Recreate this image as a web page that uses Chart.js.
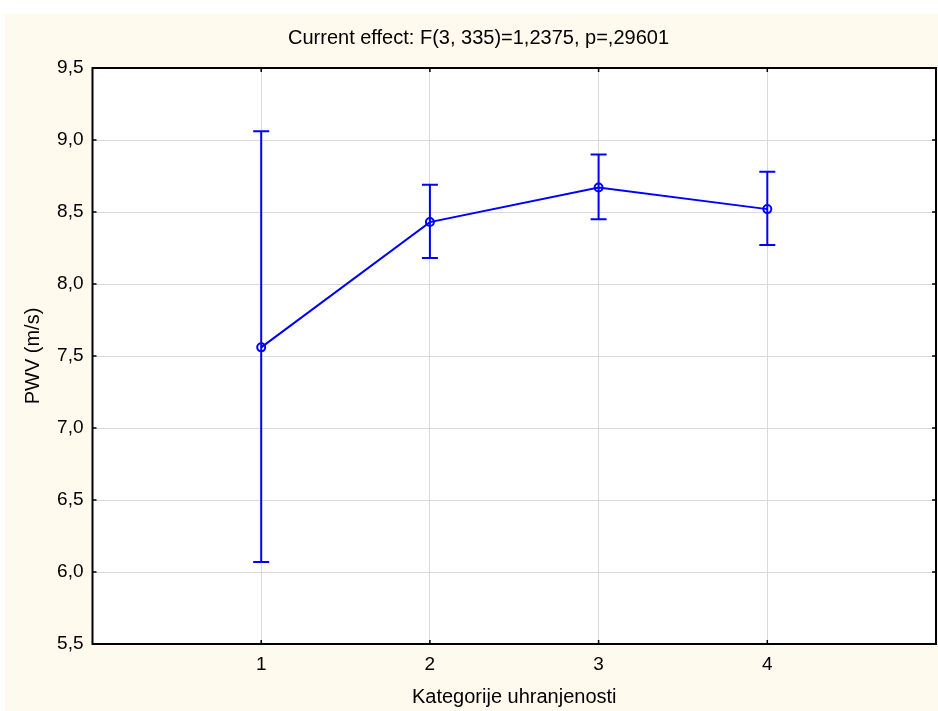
<!DOCTYPE html>
<html>
<head>
<meta charset="utf-8">
<script src="https://cdn.jsdelivr.net/npm/chart.js@4.4.1/dist/chart.umd.min.js"></script>
<style>
  html, body { margin: 0; padding: 0; background: #ffffff; }
  canvas { display: block; }
</style>
</head>
<body>
<canvas id="effectChart" width="938" height="711"></canvas>
<script>
const categories = [1, 2, 3, 4];
const xTickLabels = ["1", "2", "3", "4"];
const means = [7.56, 8.43, 8.67, 8.52];
const upper = [9.06, 8.69, 8.90, 8.78];
const lower = [6.07, 8.18, 8.45, 8.27];

const BLUE = "#0000ff";
const FONT = "'Liberation Sans', Arial, sans-serif";

// cream page + white plot area
const backgroundPlugin = {
  id: "background",
  beforeDraw(chart) {
    const { ctx, chartArea: a } = chart;
    ctx.save();
    ctx.fillStyle = "#ffffff";
    ctx.fillRect(0, 0, chart.width, chart.height);
    ctx.fillStyle = "#fff9ee";
    ctx.fillRect(5, 14, chart.width - 5, chart.height - 14);
    ctx.fillStyle = "#ffffff";
    ctx.fillRect(a.left, a.top, a.right - a.left, a.bottom - a.top);
    ctx.restore();
  }
};

// vertical error bars with caps
const errorBarPlugin = {
  id: "errorBars",
  beforeDatasetsDraw(chart) {
    const { ctx, scales: { x, y } } = chart;
    ctx.save();
    ctx.strokeStyle = BLUE;
    ctx.lineWidth = 2;
    categories.forEach((c, i) => {
      const px = x.getPixelForValue(c);
      const top = y.getPixelForValue(upper[i]);
      const bot = y.getPixelForValue(lower[i]);
      ctx.beginPath();
      ctx.moveTo(px, top); ctx.lineTo(px, bot);
      ctx.moveTo(px - 8, top); ctx.lineTo(px + 8, top);
      ctx.moveTo(px - 8, bot); ctx.lineTo(px + 8, bot);
      ctx.stroke();
    });
    ctx.restore();
  }
};

// box frame with short inward ticks on all sides
const framePlugin = {
  id: "frame",
  afterDraw(chart) {
    const { ctx, chartArea: a, scales: { x, y } } = chart;
    ctx.save();
    ctx.strokeStyle = "#000000";
    ctx.lineWidth = 2;
    ctx.strokeRect(a.left, a.top, a.right - a.left, a.bottom - a.top);
    ctx.lineWidth = 1.5;
    ctx.beginPath();
    y.ticks.forEach(t => {
      const py = y.getPixelForValue(t.value);
      ctx.moveTo(a.left, py); ctx.lineTo(a.left + 4, py);
      ctx.moveTo(a.right, py); ctx.lineTo(a.right - 4, py);
    });
    categories.forEach(c => {
      const px = x.getPixelForValue(c);
      ctx.moveTo(px, a.top); ctx.lineTo(px, a.top + 4);
      ctx.moveTo(px, a.bottom); ctx.lineTo(px, a.bottom - 4);
    });
    ctx.stroke();
    ctx.restore();
  }
};

new Chart(document.getElementById("effectChart"), {
  type: "line",
  data: {
    datasets: [{
      data: categories.map((c, i) => ({ x: c, y: means[i] })),
      borderColor: BLUE,
      borderWidth: 2,
      pointRadius: 4,
      pointBorderWidth: 2,
      pointBorderColor: BLUE,
      pointBackgroundColor: "rgba(0,0,0,0)",
      tension: 0
    }]
  },
  options: {
    responsive: false,
    animation: false,
    layout: { autoPadding: false, padding: { top: 14, left: 21, right: 2, bottom: 0 } },
    plugins: {
      legend: { display: false },
      tooltip: { enabled: false },
      title: {
        display: true,
        text: "Current effect: F(3, 335)=1,2375, p=,29601",
        color: "#000000",
        font: { family: FONT, size: 20, weight: "normal" },
        padding: { top: 12, bottom: 18 }
      }
    },
    scales: {
      x: {
        type: "linear",
        min: 0,
        max: 5,
        afterFit: s => { s.height = 67; s.paddingLeft = 0; s.paddingRight = 0; },
        border: { display: false },
        grid: {
          drawTicks: false,
          color: c => (c.tick && (c.tick.value === 0 || c.tick.value === 5)) ? "rgba(0,0,0,0)" : "#d9d9d9",
          lineWidth: 1
        },
        ticks: {
          stepSize: 1,
          padding: 9,
          maxRotation: 0,
          color: "#000000",
          font: { family: FONT, size: 19 },
          callback: v => xTickLabels[categories.indexOf(v)] || ""
        },
        title: {
          display: true,
          text: "Kategorije uhranjenosti",
          color: "#000000",
          font: { family: FONT, size: 20 },
          padding: { top: 0, bottom: 2 }
        }
      },
      y: {
        min: 5.5,
        max: 9.5,
        afterFit: s => { s.width = 71.5; },
        border: { display: false },
        grid: { drawTicks: false, color: "#d9d9d9", lineWidth: 1 },
        ticks: {
          stepSize: 0.5,
          padding: 9,
          color: "#000000",
          font: { family: FONT, size: 19 },
          callback: v => v.toFixed(1).replace(".", ",")
        },
        title: {
          display: true,
          text: "PWV (m/s)",
          color: "#000000",
          font: { family: FONT, size: 20 },
          padding: { top: 0, bottom: 0 }
        }
      }
    }
  },
  plugins: [backgroundPlugin, errorBarPlugin, framePlugin]
});
</script>
</body>
</html>
